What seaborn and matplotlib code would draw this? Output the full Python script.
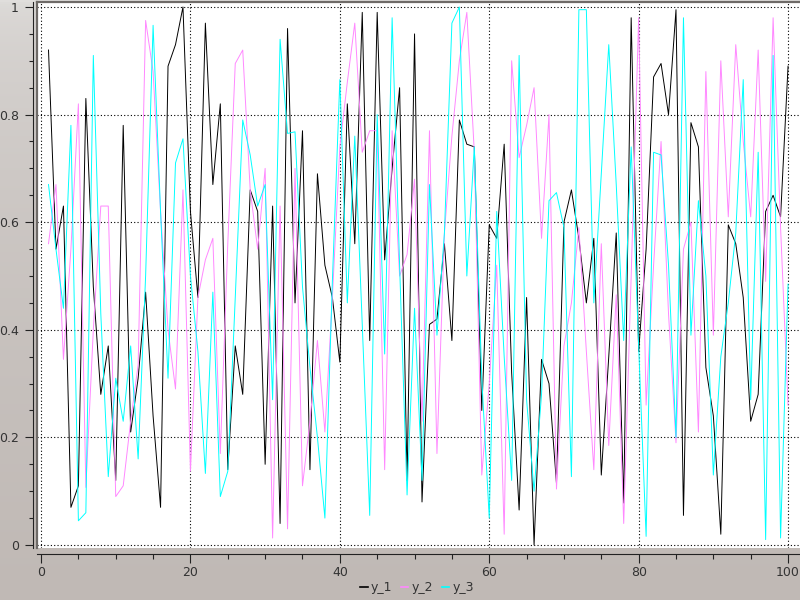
import numpy as np
import pandas as pd
import matplotlib
matplotlib.use('Agg')
import matplotlib.pyplot as plt
from matplotlib.lines import Line2D
from matplotlib.ticker import MultipleLocator
import seaborn as sns

# values (x = 1..100)
x = list(range(1, 101))

y_1 = [0.92, 0.55, 0.63, 0.07, 0.11, 0.83, 0.48, 0.28, 0.37, 0.12,
       0.78, 0.21, 0.31, 0.47, 0.24, 0.07, 0.89, 0.93, 1.00, 0.62,
       0.46, 0.97, 0.67, 0.82, 0.14, 0.37, 0.28, 0.66, 0.62, 0.15,
       0.63, 0.04, 0.96, 0.45, 0.77, 0.14, 0.69, 0.52, 0.46, 0.34,
       0.82, 0.56, 0.99, 0.38, 0.99, 0.53, 0.70, 0.85, 0.12, 0.95,
       0.08, 0.41, 0.42, 0.56, 0.38, 0.79, 0.745, 0.74, 0.25, 0.595,
       0.57, 0.745, 0.32, 0.065, 0.46, 0.00, 0.345, 0.30, 0.115, 0.60,
       0.66, 0.57, 0.45, 0.57, 0.13, 0.35, 0.58, 0.078, 0.98, 0.36,
       0.55, 0.87, 0.895, 0.80, 0.995, 0.055, 0.785, 0.74, 0.33, 0.24,
       0.02, 0.595, 0.56, 0.46, 0.23, 0.28, 0.62, 0.65, 0.61, 0.89]

y_2 = [0.56, 0.67, 0.345, 0.55, 0.82, 0.107, 0.40, 0.63, 0.63, 0.09,
       0.11, 0.23, 0.335, 0.975, 0.88, 0.62, 0.40, 0.29, 0.66, 0.137,
       0.46, 0.53, 0.57, 0.17, 0.56, 0.895, 0.92, 0.66, 0.55, 0.70,
       0.013, 0.63, 0.03, 0.70, 0.11, 0.23, 0.38, 0.21, 0.46, 0.74,
       0.86, 0.97, 0.73, 0.77, 0.77, 0.14, 0.77, 0.50, 0.54, 0.68,
       0.23, 0.77, 0.17, 0.58, 0.76, 0.90, 0.99, 0.73, 0.13, 0.30,
       0.52, 0.02, 0.90, 0.72, 0.78, 0.85, 0.57, 0.80, 0.104, 0.37,
       0.45, 0.59, 0.36, 0.14, 0.56, 0.185, 0.465, 0.04, 0.50, 0.98,
       0.26, 0.52, 0.75, 0.43, 0.19, 0.55, 0.60, 0.21, 0.88, 0.39,
       0.90, 0.61, 0.93, 0.75, 0.61, 0.92, 0.49, 0.98, 0.59, 0.26]

y_3 = [0.67, 0.55, 0.44, 0.78, 0.045, 0.06, 0.91, 0.43, 0.127, 0.31,
       0.23, 0.37, 0.16, 0.50, 0.966, 0.62, 0.31, 0.71, 0.755, 0.50,
       0.36, 0.133, 0.47, 0.09, 0.137, 0.46, 0.79, 0.725, 0.63, 0.67,
       0.27, 0.94, 0.765, 0.768, 0.48, 0.33, 0.20, 0.05, 0.49, 0.865,
       0.45, 0.76, 0.41, 0.055, 0.80, 0.355, 0.98, 0.52, 0.093, 0.44,
       0.12, 0.67, 0.39, 0.58, 0.97, 1.00, 0.50, 0.74, 0.31, 0.05,
       0.62, 0.35, 0.12, 0.91, 0.27, 0.10, 0.28, 0.64, 0.655, 0.59,
       0.127, 0.995, 0.995, 0.45, 0.69, 0.93, 0.67, 0.38, 0.74, 0.37,
       0.016, 0.73, 0.725, 0.52, 0.20, 0.98, 0.39, 0.64, 0.50, 0.13,
       0.35, 0.45, 0.58, 0.865, 0.27, 0.73, 0.01, 0.91, 0.013, 0.485]

names = ['y_1', 'y_2', 'y_3']
colors = {'y_1': '#000000', 'y_2': '#ff88ff', 'y_3': '#00ffff'}

df = pd.DataFrame({'x': x, 'y_1': y_1, 'y_2': y_2, 'y_3': y_3})
df_long = df.melt(id_vars='x', var_name='series', value_name='value')

fig = plt.figure(figsize=(8, 6), dpi=100)

# soft gradient window background
bg = fig.add_axes([0, 0, 1, 1], zorder=-10)
t = np.linspace(0, 1, 300) ** 0.45
top = np.array([224, 222, 220]) / 255
bot = np.array([192, 185, 181]) / 255
img = (top[None, :] * (1 - t[:, None]) + bot[None, :] * t[:, None])[:, None, :]
bg.imshow(img, aspect='auto', extent=[0, 1, 0, 1])
bg.axis('off')

ax = fig.add_axes([37 / 800, 52 / 600, 763 / 800, 546 / 600])
ax.set_facecolor('white')
ax.grid(True, which='major', color='black', linestyle=(0, (1, 2)), linewidth=0.8)
ax.set_axisbelow(True)

sns.lineplot(data=df_long, x='x', y='value', hue='series', hue_order=names,
             palette=colors, linewidth=0.7, estimator=None, legend=False, ax=ax)

ax.set_xlim(-0.54, 101.6)
ax.set_ylim(-0.0056, 1.0093)
ax.set_xlabel('')
ax.set_ylabel('')

ax.xaxis.set_major_locator(MultipleLocator(20))
ax.xaxis.set_minor_locator(MultipleLocator(5))
ax.yaxis.set_major_locator(MultipleLocator(0.2))
ax.yaxis.set_minor_locator(MultipleLocator(0.05))
ax.yaxis.set_major_formatter(plt.FuncFormatter(lambda v, p: '%g' % round(v, 2)))

for s in ['right', 'top']:
    ax.spines[s].set_visible(False)
ax.spines['left'].set_position(('outward', 3))
ax.spines['bottom'].set_position(('outward', 4.5))
for s in ['left', 'bottom']:
    ax.spines[s].set_color('#222222')
    ax.spines[s].set_linewidth(0.8)

ax.tick_params(axis='both', which='both', color='#222222', width=0.8,
               labelsize=9, labelcolor='#333333')
ax.tick_params(axis='y', which='major', length=6, pad=4)
ax.tick_params(axis='y', which='minor', length=3)
ax.tick_params(axis='x', which='major', length=6.5, pad=2)
ax.tick_params(axis='x', which='minor', length=3.5)

# sunken frame on left and top edges of the canvas
ax.plot([0, 0], [0, 1], transform=ax.transAxes, color='#6e6a67', lw=1.6, clip_on=False)
ax.plot([0, 1], [1, 1], transform=ax.transAxes, color='#6e6a67', lw=1.6, clip_on=False)

handles = [Line2D([], [], color=colors[n], lw=1.2) for n in names]
fig.legend(handles, names, loc='center', bbox_to_anchor=(417 / 800, 1 - 588 / 600),
           ncol=3, frameon=False, fontsize=9, handlelength=0.6, handletextpad=0.25,
           columnspacing=0.7, labelcolor='#333333')

fig.savefig('out.png', dpi=100)
